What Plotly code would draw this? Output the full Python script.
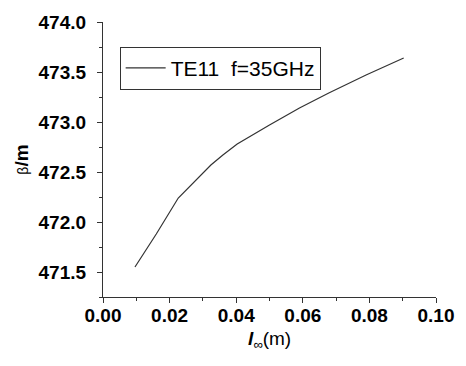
import plotly.graph_objects as go

x_vals = [0.0096, 0.0160, 0.0226, 0.0256, 0.0280, 0.0324, 0.0360, 0.0403, 0.0500, 0.0590, 0.0678, 0.0790, 0.0903]
y_vals = [471.55, 471.88, 472.24, 472.34, 472.43, 472.57, 472.67, 472.78, 472.97, 473.14, 473.29, 473.47, 473.64]
series_name = "TE11  f=35GHz"
x_ticks = [0.00, 0.02, 0.04, 0.06, 0.08, 0.10]
y_ticks = [471.5, 472.0, 472.5, 473.0, 473.5, 474.0]

fig = go.Figure()
fig.add_trace(go.Scatter(x=x_vals, y=y_vals, mode="lines", name=series_name,
                         line=dict(color="#333333", width=1.2)))

tickfont = dict(family="Liberation Sans, Arial", size=19, color="black")
fig.update_layout(
    width=466, height=366,
    margin=dict(l=103, r=23, t=17, b=69),
    paper_bgcolor="white", plot_bgcolor="white",
    font=dict(family="Liberation Sans, Arial", color="black"),
    showlegend=True,
    legend=dict(x=0.05, y=0.91, xanchor="left", yanchor="top",
                bordercolor="#333", borderwidth=1, bgcolor="white",
                font=dict(size=21, family="Liberation Sans, Arial"),
                itemwidth=40, tracegroupgap=0),
    xaxis=dict(range=[0, 0.10], tickvals=x_ticks,
               ticktext=["<b>%.2f</b>" % v for v in x_ticks],
               showline=True, linecolor="#333", linewidth=1.2,
               ticks="outside", ticklen=5, tickcolor="#333", tickwidth=1,
               ticklabelstandoff=-4,
               minor=dict(ticks="outside", ticklen=3, dtick=0.01, tickcolor="#333"),
               showgrid=False, zeroline=False, tickfont=tickfont,
               title=dict(text="<b><i>l</i></b><sub>∞</sub>(m)", font=dict(size=19), standoff=6)),
    yaxis=dict(range=[471.25, 474.0], tickvals=y_ticks,
               ticktext=["<b>%.1f</b>" % v for v in y_ticks],
               showline=True, linecolor="#333", linewidth=1.2,
               ticks="outside", ticklen=5, tickcolor="#333", tickwidth=1,
               ticklabelstandoff=7,
               minor=dict(ticks="outside", ticklen=3, dtick=0.25, tickcolor="#333"),
               showgrid=False, zeroline=False, tickfont=tickfont,
               title=dict(text="<span style='font-size:14px'>β</span><b>/m</b>", font=dict(size=19), standoff=4)),
)
fig.write_html("out.html")
